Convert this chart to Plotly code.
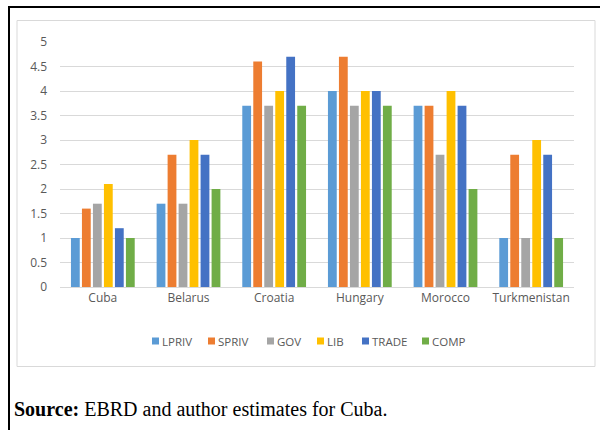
import plotly.graph_objects as go

countries = ["Cuba", "Belarus", "Croatia", "Hungary", "Morocco", "Turkmenistan"]
series_names = ["LPRIV", "SPRIV", "GOV", "LIB", "TRADE", "COMP"]
lpriv = [1.0, 1.7, 3.7, 4.0, 3.7, 1.0]
spriv = [1.6, 2.7, 4.6, 4.7, 3.7, 2.7]
gov = [1.7, 1.7, 3.7, 3.7, 2.7, 1.0]
lib = [2.1, 3.0, 4.0, 4.0, 4.0, 3.0]
trade = [1.2, 2.7, 4.7, 4.0, 3.7, 2.7]
comp = [1.0, 2.0, 3.7, 3.7, 2.0, 1.0]
y_ticks = [0, 0.5, 1, 1.5, 2, 2.5, 3, 3.5, 4, 4.5, 5]
y_tick_labels = ["0", "0.5", "1", "1.5", "2", "2.5", "3", "3.5", "4", "4.5", "5"]
source_note = "<b>Source:</b> EBRD and author estimates for Cuba."

colors = ["#5B9BD5", "#ED7D31", "#A5A5A5", "#FFC000", "#4472C4", "#70AD47"]
all_series = [lpriv, spriv, gov, lib, trade, comp]

fig = go.Figure()
for name, vals, c in zip(series_names, all_series, colors):
    fig.add_trace(go.Bar(x=countries, y=vals, name=name, showlegend=False,
                         marker=dict(color=c, line=dict(width=0))))

W, H = 600, 430
L, R, T, B = 60, 26, 42, 143
pw = W - L - R
ph = H - T - B

def px(x):
    return (x - L) / pw

def py(y):
    return (H - B - y) / ph

shapes = [
    # inner chart-area border
    dict(type="rect", xref="paper", yref="paper", x0=px(17), x1=px(595), y0=py(366.5), y1=py(20.5),
         line=dict(color="#D9D9D9", width=1), layer="below"),
    # outer black frame (right/bottom edges fall outside the page)
    dict(type="rect", xref="paper", yref="paper", x0=px(9), x1=px(640), y0=py(470), y1=py(7),
         line=dict(color="#000000", width=2), fillcolor="rgba(0,0,0,0)", layer="above"),
]

annotations = [
    dict(xref="paper", yref="paper", x=px(12), y=py(409), xanchor="left", yanchor="middle",
         text=source_note, showarrow=False,
         font=dict(family="Liberation Serif, serif", size=20, color="#000000")),
]

# manual compact legend (Excel style)
legend_x = [152, 208, 267, 317, 362, 422]
legend_y = 341
for name, c, lx in zip(series_names, colors, legend_x):
    shapes.append(dict(type="rect", xref="paper", yref="paper",
                       x0=px(lx), x1=px(lx + 7), y0=py(legend_y + 3.5), y1=py(legend_y - 3.5),
                       fillcolor=c, line=dict(width=0)))
    annotations.append(dict(xref="paper", yref="paper", x=px(lx + 8), y=py(legend_y),
                            xanchor="left", yanchor="middle", text=name, showarrow=False,
                            font=dict(size=11.5, color="#595959")))

fig.update_layout(
    width=W, height=H,
    margin=dict(l=L, r=R, t=T, b=B),
    paper_bgcolor="white", plot_bgcolor="white",
    barmode="group", bargap=0.23, bargroupgap=0.2,
    font=dict(family="Open Sans, Liberation Sans, sans-serif", size=11, color="#595959"),
    shapes=shapes,
    annotations=annotations,
    showlegend=False,
)
fig.update_xaxes(showgrid=False, showline=True, linecolor="#D9D9D9", ticks="",
                 tickfont=dict(size=12, color="#595959"))
fig.update_yaxes(range=[0, 5], tickvals=y_ticks, ticktext=y_tick_labels, showgrid=True,
                 gridcolor="#D9D9D9", gridwidth=1, zeroline=False, showline=False,
                 tickfont=dict(size=12, color="#595959"), ticklabelstandoff=12)

fig.write_html("out.html", config={"displayModeBar": False},
               post_script="document.body.style.margin='0';")
